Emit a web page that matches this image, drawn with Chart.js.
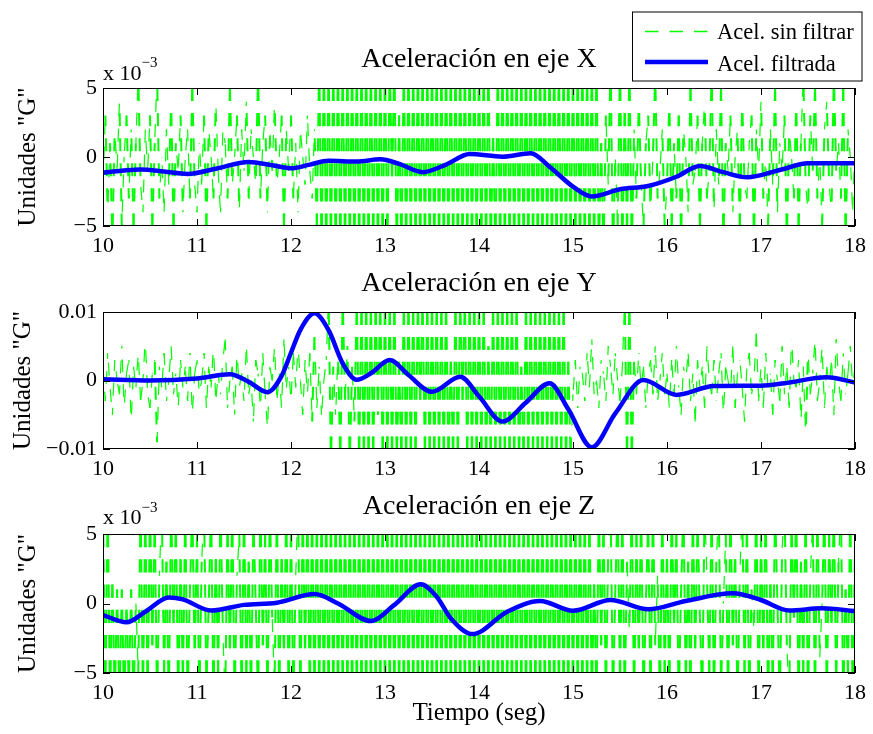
<!DOCTYPE html>
<html>
<head>
<meta charset="utf-8">
<script src="https://cdn.jsdelivr.net/npm/chart.js@4.4.0/dist/chart.umd.min.js"></script>
<style>
  body { margin: 0; background: #fff; width: 873px; height: 734px; position: relative; overflow: hidden; }
  canvas { position: absolute; left: 0; }
  svg { position: absolute; left: 0; top: 0; pointer-events: none; }
</style>
</head>
<body>
<canvas id="cx" width="873" height="260" style="top:0;width:873px;height:260px"></canvas>
<canvas id="cy" width="873" height="220" style="top:260px;width:873px;height:220px"></canvas>
<canvas id="cz" width="873" height="254" style="top:480px;width:873px;height:254px"></canvas>
<svg width="873" height="734" font-family="Liberation Serif">
  <!-- legend -->
  <rect x="632.5" y="12" width="229.5" height="69" fill="#fff" stroke="#000" stroke-width="1"/>
  <line x1="645" y1="31.5" x2="708" y2="31.5" stroke="#00ff00" stroke-width="1.3" stroke-dasharray="13.5 11"/>
  <text x="717" y="39" font-size="22.5">Acel. sin filtrar</text>
  <line x1="645" y1="62" x2="708" y2="62" stroke="#0000ff" stroke-width="4.5"/>
  <text x="717" y="70.5" font-size="22.5">Acel. filtrada</text>
  <!-- exponent labels -->
  <text x="103" y="79.5" font-size="22">x 10<tspan dy="-12.5" font-size="15">−3</tspan></text>
  <text x="103" y="524" font-size="22">x 10<tspan dy="-12.5" font-size="15">−3</tspan></text>
</svg>
<script>
// raw signal sampling grid (seconds)
var t0 = 10
var dt = 0.025

var tiempoTicks = [10, 11, 12, 13, 14, 15, 16, 17, 18]
var ticksMilli = [-5, 0, 5]
var labelsMilli = ['\u22125', '0', '5']
var ticksY = [-10, 0, 10]
var labelsY = ['\u22120.01', '0', '0.01']

// aceleracion sin filtrar, eje X (x 10^-3 G), one row = 0.5 s
var rawX = [
  -2, 3, -4, 1, -6, 2, -1, 4, -5, 0, 3, -3, 2, -5, 1, 6, -2, -4, 2, -1,
  3, -5, 1, 6, -3, 0, -4, 2, -2, 4, -5, 1, -1, 3, -4, 0, 2, -3, 5, -2,
  -4, 1, -2, 3, -5, 2, 0, -3, 4, -1, -4, 2, 1, -3, 5, -2, 0, 3, -4, 2,
  -1, 4, -3, 2, 0, -2, 6, -3, 1, 3, -4, 2, -1, 4, -2, 0, 3, -5, 2, -1,
  3, -3, 1, -4, 2, 0, -2, 3, -1, -3, 2, -5, 7, -7, 7, -7, 7, -7, 7, -7,
  7, -7, 7, -7, 7, -7, 7, -7, 7, -7, 7, -7, 7, -7, 7, -7, 7, -7, 7, -7,
  7, -7, 7, -2, 7, -7, 3, -7, 7, -7, 7, -7, 7, -7, 7, -7, 7, -7, 7, -7,
  7, -7, 7, -7, 7, -7, 7, -7, 7, -7, 7, -7, 7, -7, 7, -7, 7, -7, 7, -7,
  7, -7, 7, -7, 7, -7, 2, -7, 7, -7, 7, -7, 7, -7, 7, -7, 7, -7, 7, -7,
  7, -7, 7, -7, 7, -7, 7, -7, 7, -7, 7, -7, 7, -7, 7, -7, 7, -7, 7, -7,
  7, -7, 7, -7, 7, -7, 7, -7, 7, -7, 7, -7, 1, -7, 3, -2, 7, -7, 0, -5,
  7, -7, 4, -6, 7, -7, 2, -3, 4, -2, -5, 1, 3, -4, 0, 6, -3, -1, 2, -5,
  -2, 4, -5, 1, -3, 3, -6, 2, 0, -4, 5, -2, -1, 3, -5, 1, 4, -3, -1, 6,
  -4, 2, -2, 5, -6, 1, -1, 3, -4, 0, 2, -5, 4, -2, -3, 1, 3, -6, 2, -1,
  4, -3, 0, -5, 2, -2, 5, -4, 1, -1, 3, -6, 2, 0, -3, 4, -5, 1, 6, -2,
  -4, 3, -1, 5, -3, 0, -5, 2, 4, -2, -4, 6, -1, 1, -3, 5, -6, 2, 0, -4,
  1
]

// eje Y (x 10^-3 G)
var rawY = [
  2, -3, 4, -1, -5, 3, 0, -2, 5, -4, 1, 3, -6, 2, -1, 4, -3, 0, 6, -2,
  -4, 1, 3, -9, 2, -1, 4, -3, 0, 5, -2, 1, -4, 3, -1, 2, -3, 4, -5, 1,
  3, -2, 0, 4, -4, 2, -1, 5, -3, 1, -2, 3, 6, -4, 0, 2, -5, 4, -1, 1,
  -3, 5, -2, 0, -6, 3, 1, -4, 4, -2, -7, 2, 0, 5, -3, 1, -4, 6, -1, 2,
  -3, 4, -1, 5, 0, -5, 3, -2, 4, -6, 7, -4, 2, -5, 0, 3, 12, -12, 2, -5,
  4, -12, 12, -3, 5, -12, 2, -6, 12, -12, 12, -12, 12, -12, 12, -12, 12, -5, 12, -12,
  12, -12, 12, -12, 12, -12, 3, -12, 12, -12, 12, -12, 12, -12, 12, -4, 12, -12, 12, -12,
  12, -12, 12, -12, 12, -12, 12, -12, 4, -12, 12, -12, 12, -3, 12, -12, 12, -12, 12, -12,
  12, -12, 12, -12, 5, -12, 12, -12, 12, -12, 12, -12, 12, -12, 12, -12, 12, -12, 2, -12,
  12, -12, 12, -12, 12, -12, 12, -12, 12, -12, 12, -12, 12, -12, 12, -12, 12, -12, 3, -12,
  -2, 3, -4, 2, 1, -3, 4, -1, 6, -2, 0, -4, 3, 1, -3, 5, 2, -2, 4, 0,
  -3, 2, 12, -12, 12, -12, 3, -2, 4, -1, 2, -4, 1, 3, -2, 5, -3, 0, 4, -2,
  1, -4, 3, -2, 5, -1, -5, 2, 0, 4, -3, 1, -6, 3, -1, 2, -4, 5, 0, -2,
  3, -3, 1, 4, -5, 2, 0, -2, 5, -4, 1, 3, -1, -6, 2, 4, -2, 0, 7, -3,
  2, -4, 4, -1, 1, -5, 3, 0, -3, 5, -2, 2, -4, 6, 0, -1, 3, -6, 2, -8,
  4, -2, 1, 6, -3, 0, 5, -4, 2, -1, 3, -5, 6, 0, -3, 4, -2, 1, 5, -1,
  2
]

// eje Z (x 10^-3 G)
var rawZ = [
  7, -7, 7, -7, 2, -7, 1, -7, 1, -7, 0, -6, 1, -7, 0, -5, 7, -7, 7, -7,
  7, -3, 6, -7, 2, 7, -5, 3, -7, 7, -2, 6, -7, 4, -6, 7, -7, 1, 7, -4,
  5, -7, 3, 7, -6, 0, 7, -7, 4, -5, 7, -2, -7, 6, -4, 7, -7, 2, 5, -7,
  7, -5, 3, -7, 6, 0, -7, 7, -3, 5, -7, 7, -1, -6, 7, -7, 4, -4, 7, -7,
  6, -7, 2, 7, -7, 7, -4, 7, -7, 7, -7, 7, -7, 7, -7, 7, -7, 7, -7, 7,
  -7, 7, -7, 7, -7, 7, -7, 7, -7, 7, -7, 7, -7, 7, -7, 7, -7, 7, -7, 7,
  -7, 7, -7, 7, -7, 7, -7, 7, -7, 7, -7, 7, -7, 7, -7, 7, -7, 7, -7, 7,
  -7, 7, -7, 7, -7, 7, -7, 7, -7, 7, -7, 7, -7, 7, -7, 7, -7, 7, -7, 7,
  -7, 7, -7, 7, -7, 7, -7, 7, -7, 7, -7, 7, -7, 7, -7, 7, -7, 7, -7, 7,
  -7, 7, -7, 7, -7, 7, -7, 7, -7, 7, -7, 7, -7, 7, -7, 7, -7, 7, -7, 7,
  -7, 7, -7, 7, -7, 7, -7, 7, -7, 2, -7, 7, -3, 6, -7, 4, 7, -7, 1, 7,
  -6, 7, -7, 3, -2, 7, -7, 5, -4, 7, -7, 0, 6, -7, 7, -3, 2, -7, 7, -5,
  4, -7, 7, -2, 5, -7, 1, 7, -6, 3, -7, 7, -4, 6, -1, -7, 7, 2, -5, 7,
  -7, 3, 7, -6, 0, 5, -7, 7, -3, 4, -7, 2, 7, -5, 6, -7, 1, -2, 7, -7,
  5, -4, 7, -7, 2, -6, 7, 0, -7, 4, 7, -3, -7, 6, -1, 7, -7, 3, -5, 7,
  -7, 2, 6, -7, 7, -4, 0, 7, -7, 5, -2, 7, -6, 3, 7, -7, 1, -5, 7, -7,
  4
]

// aceleracion filtrada
var filtTX = [10.0, 10.2, 10.4, 10.65, 10.9, 11.2, 11.55, 11.8, 12.0, 12.2, 12.4, 12.7, 12.95, 13.15, 13.4, 13.65, 13.9, 14.25, 14.55, 14.75, 15.0, 15.2, 15.5, 15.8, 16.1, 16.35, 16.6, 16.85, 17.2, 17.5, 17.75, 18.0]
var filtX = [-1.14, -1.0, -0.9, -1.05, -1.23, -0.85, -0.36, -0.6, -0.82, -0.55, -0.27, -0.33, -0.17, -0.5, -1.1, -0.55, 0.22, 0.02, 0.27, -0.7, -2.15, -2.87, -2.34, -2.1, -1.43, -0.65, -1.1, -1.47, -0.94, -0.46, -0.45, -0.46]

var filtTY = [10.0, 10.5, 11.0, 11.35, 11.55, 11.75, 11.9, 12.0, 12.1, 12.25, 12.4, 12.55, 12.7, 12.85, 13.05, 13.25, 13.5, 13.8, 14.0, 14.25, 14.5, 14.75, 14.95, 15.2, 15.45, 15.75, 16.1, 16.5, 17.0, 17.25, 17.7, 18.0]
var filtY = [0.17, 0.0, 0.3, 0.9, -0.2, -1.7, 0.67, 4.05, 7.4, 9.8, 7.35, 2.5, 0.1, 1.05, 3.0, 0.8, -1.65, 0.56, -2.3, -6.0, -3.2, -0.4, -4.2, -9.75, -4.8, 0.07, -2.1, -0.8, -0.76, -0.4, 0.46, -0.3]

var filtTZ = [10.0, 10.25, 10.45, 10.7, 10.85, 11.15, 11.5, 11.85, 12.25, 12.5, 12.85, 13.1, 13.38, 13.55, 13.7, 13.93, 14.3, 14.65, 15.0, 15.4, 15.8, 16.2, 16.7, 17.0, 17.3, 17.65, 18.0]
var filtZ = [-0.83, -1.35, -0.59, 0.44, 0.3, -0.51, -0.1, 0.06, 0.68, 0.0, -1.26, -0.1, 1.38, 0.49, -1.07, -2.2, -0.59, 0.18, -0.52, 0.25, -0.42, 0.18, 0.73, 0.25, -0.5, -0.35, -0.54]

var SERIF = 'Liberation Serif'
Chart.defaults.font.family = SERIF
Chart.defaults.color = '#000'

function rawPoints(values) {
    return values.map(function (v, i) { return { x: t0 + i * dt, y: v } })
}
function filtPoints(ts, vs) {
    return ts.map(function (t, i) { return { x: t, y: vs[i] } })
}

// matlab-like dashes: long strokes line up into horizontal bands
function isLong(ctx) {
    var a = ctx.chart.chartArea
    return Math.abs(ctx.p1.y - ctx.p0.y) >= 0.6 * (a.bottom - a.top)
}
function bandDash(ctx) {
    var a = ctx.chart.chartArea
    var p = (a.bottom - a.top) / 5.5
    return [p * 0.52, p * 0.48]
}
function bandOffset(ctx) {
    var a = ctx.chart.chartArea
    var p = (a.bottom - a.top) / 5.5
    var off = p * 0.48
    var dy = ctx.p1.y - ctx.p0.y
    var rel = ctx.p0.y - a.top
    var mod = function (v) { return ((v % p) + p) % p }
    if (!isLong(ctx)) return mod(ctx.p0DataIndex * 7.7)
    return dy > 0 ? mod(rel) : mod(-rel - off)
}
function bandWidth(ctx) {
    return isLong(ctx) ? 2 : 1.2
}

// box round the axes + inward tick marks
var axesBox = {
    id: 'axesBox',
    afterDatasetsDraw: function (chart) {
        var ctx = chart.ctx
        var a = chart.chartArea
        var xs = chart.scales.x
        var ys = chart.scales.y
        var len = 7
        ctx.save()
        ctx.strokeStyle = '#000'
        ctx.lineWidth = 1
        ctx.beginPath()
        xs.ticks.forEach(function (t) {
            var px = Math.round(xs.getPixelForValue(t.value)) + 0.5
            ctx.moveTo(px, a.bottom); ctx.lineTo(px, a.bottom - len)
            ctx.moveTo(px, a.top); ctx.lineTo(px, a.top + len)
        })
        ys.ticks.forEach(function (t) {
            var py = Math.round(ys.getPixelForValue(t.value)) + 0.5
            ctx.moveTo(a.left, py); ctx.lineTo(a.left + len, py)
            ctx.moveTo(a.right, py); ctx.lineTo(a.right - len, py)
        })
        ctx.stroke()
        ctx.strokeRect(Math.round(a.left) + 0.5, Math.round(a.top) + 0.5, Math.round(a.right - a.left) - 1, Math.round(a.bottom - a.top) - 1)
        ctx.restore()
    }
}

function makeChart(id, c) {
    return new Chart(document.getElementById(id), {
        type: 'line',
        data: {
            datasets: [{
                label: 'Acel. sin filtrar',
                data: rawPoints(c.raw),
                borderColor: '#00ff00',
                borderWidth: 1.2,
                pointRadius: 0,
                tension: 0,
                clip: 0,
                order: 2,
                segment: { borderDash: bandDash, borderDashOffset: bandOffset, borderWidth: bandWidth }
            }, {
                label: 'Acel. filtrada',
                data: filtPoints(c.ft, c.fv),
                borderColor: '#0000ff',
                borderWidth: 4.5,
                pointRadius: 0,
                cubicInterpolationMode: 'monotone',
                clip: 0,
                order: 1
            }]
        },
        options: {
            responsive: false,
            animation: false,
            events: [],
            layout: { padding: { left: 0, right: 13, top: 0, bottom: 0 } },
            plugins: {
                legend: { display: false },
                tooltip: { enabled: false },
                title: {
                    display: true,
                    text: c.title,
                    fullSize: false,
                    color: '#000',
                    font: { family: SERIF, size: 28, weight: 'normal' },
                    padding: { top: c.titleTop, bottom: c.titleBottom }
                }
            },
            scales: {
                x: {
                    type: 'linear',
                    min: 10,
                    max: 18,
                    afterBuildTicks: function (s) { s.ticks = tiempoTicks.map(function (v) { return { value: v } }) },
                    afterFit: function (s) { s.height = c.height - c.bottom },
                    ticks: { font: { size: 22 }, padding: 7, maxRotation: 0, autoSkip: false, color: '#000',
                             callback: function (v) { return String(v) } },
                    grid: { display: false, drawTicks: false },
                    border: { display: false },
                    title: c.xTitle
                },
                y: {
                    type: 'linear',
                    min: c.min,
                    max: c.max,
                    afterBuildTicks: function (s) { s.ticks = c.tickVals.map(function (v) { return { value: v } }) },
                    afterFit: function (s) { s.width = 103 },
                    ticks: { font: { size: 22 }, padding: 6, color: '#000',
                             callback: function (v, i) { return c.tickLabels[i] } },
                    grid: { display: false, drawTicks: false },
                    border: { display: false },
                    title: { display: true, text: 'Unidades "G"', color: '#000',
                             font: { size: 25 }, padding: { top: c.yTitlePad, bottom: 0 } }
                }
            }
        },
        plugins: [axesBox]
    })
}

makeChart('cx', {
    raw: rawX, ft: filtTX, fv: filtX, title: 'Aceleración en eje X',
    height: 260, bottom: 226, titleTop: 42.7, titleBottom: 11.7,
    min: -5, max: 5, tickVals: ticksMilli, tickLabels: labelsMilli, yTitlePad: 13.6,
    xTitle: { display: false }
})
makeChart('cy', {
    raw: rawY, ft: filtTY, fv: filtY, title: 'Aceleración en eje Y',
    height: 220, bottom: 189, titleTop: 6.7, titleBottom: 11.7,
    min: -10, max: 10, tickVals: ticksY, tickLabels: labelsY, yTitlePad: 8.1,
    xTitle: { display: false }
})
makeChart('cz', {
    raw: rawZ, ft: filtTZ, fv: filtZ, title: 'Aceleración en eje Z',
    height: 254, bottom: 193, titleTop: 9.7, titleBottom: 10.7,
    min: -5, max: 5, tickVals: ticksMilli, tickLabels: labelsMilli, yTitlePad: 13.6,
    xTitle: { display: true, text: 'Tiempo (seg)', color: '#000', font: { size: 25 }, padding: { top: 0, bottom: 5.7 } }
})
</script>
</body>
</html>
